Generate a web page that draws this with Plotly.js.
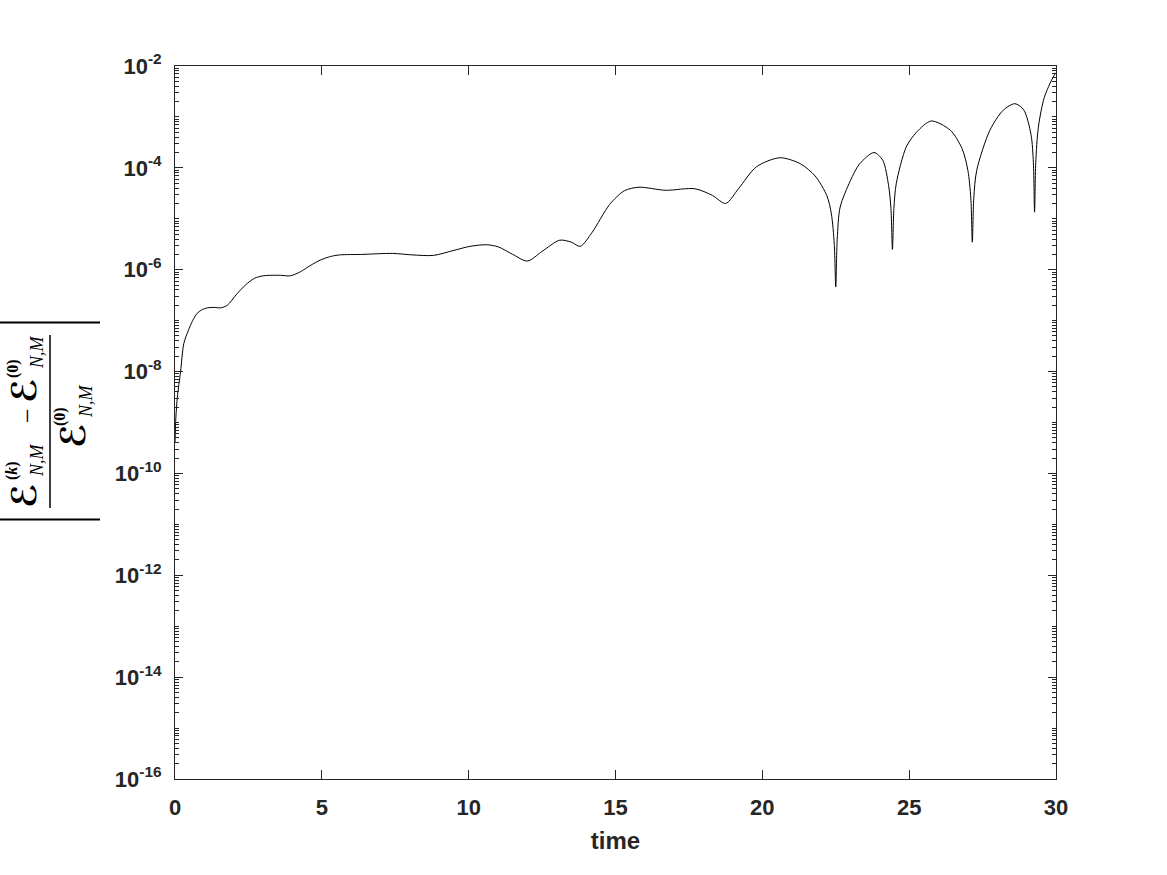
<!DOCTYPE html>
<html>
<head>
<meta charset="utf-8">
<script src="https://cdn.plot.ly/plotly-3.0.1.min.js"></script>
<style>html,body{margin:0;padding:0;background:#fff;}#chart{width:1167px;height:875px;}</style>
</head>
<body>
<div id="chart"></div>
<script>
// time values
const time = [0, 0.03, 0.08, 0.19, 0.3, 0.45, 0.6, 0.75, 0.9, 1.1, 1.35, 1.55, 1.78, 2.1, 2.4, 2.7, 3.0, 3.25, 3.6, 3.93,
  4.27, 4.6, 4.95, 5.3, 5.6, 6.4, 7.4, 8.1, 8.8, 9.5, 10.05, 10.6, 11.0, 11.5, 12.0, 12.5, 13.1, 13.5, 13.8, 14.2,
  14.8, 15.3, 15.8, 16.7, 17.7, 18.3, 18.75, 19.2, 19.8, 20.6, 21.3, 21.8, 22.2, 22.35, 22.45, 22.5, 22.55, 22.65, 23.0, 23.3,
  23.8, 24.1, 24.3, 24.38, 24.43, 24.48, 24.56, 24.9, 25.25, 25.75, 26.4, 26.8, 27.0, 27.1, 27.15, 27.2, 27.3, 27.75, 28.2, 28.6,
  28.9, 29.15, 29.23, 29.27, 29.31, 29.4, 29.6, 29.9, 30];
// relative energy error
const relError = [3.98e-10, 1.26e-9, 3.16e-9, 1.0e-8, 3.55e-8, 6.31e-8, 1.0e-7, 1.38e-7, 1.62e-7, 1.78e-7, 1.82e-7, 1.78e-7, 2.0e-7, 3.31e-7, 5.01e-7, 6.76e-7, 7.59e-7, 7.76e-7, 7.76e-7, 7.59e-7,
  9.12e-7, 1.20e-6, 1.55e-6, 1.82e-6, 1.95e-6, 2.0e-6, 2.09e-6, 1.95e-6, 1.91e-6, 2.40e-6, 2.88e-6, 3.09e-6, 2.82e-6, 2.0e-6, 1.48e-6, 2.29e-6, 3.80e-6, 3.47e-6, 2.88e-6, 5.37e-6,
  1.91e-5, 3.55e-5, 4.17e-5, 3.63e-5, 3.89e-5, 2.88e-5, 2.0e-5, 3.98e-5, 1.05e-4, 1.58e-4, 1.20e-4, 6.92e-5, 2.82e-5, 1.26e-5, 3.16e-6, 4.57e-7, 3.98e-6, 1.70e-5, 5.62e-5, 1.17e-4,
  2.0e-4, 1.41e-4, 4.47e-5, 1.58e-5, 2.51e-6, 1.58e-5, 4.90e-5, 2.57e-4, 5.01e-4, 8.32e-4, 5.50e-4, 2.40e-4, 8.91e-5, 2.51e-5, 3.47e-6, 2.51e-5, 8.91e-5, 5.50e-4, 1.35e-3, 1.82e-3,
  1.38e-3, 4.47e-4, 1.26e-4, 1.35e-5, 1.26e-4, 6.31e-4, 2.40e-3, 6.03e-3, 7.41e-3];

const xTickVals = [0, 5, 10, 15, 20, 25, 30];
const xTickText = ['0', '5', '10', '15', '20', '25', '30'];
const yTickVals = [1e-16, 1e-14, 1e-12, 1e-10, 1e-8, 1e-6, 1e-4, 1e-2];
const yTickText = ['10<sup>-16</sup>', '10<sup>-14</sup>', '10<sup>-12</sup>', '10<sup>-10</sup>', '10<sup>-8</sup>', '10<sup>-6</sup>', '10<sup>-4</sup>', '10<sup>-2</sup>'];

// minor ticks on log axis
const minorVals = [];
for (let e = -16; e < -2; e++) {
  for (let m = 1; m <= 9; m++) {
    if (m === 1 && (e % 2 === 0)) continue;
    minorVals.push(m * Math.pow(10, e));
  }
}

const W = 1167, H = 875, L = 175, R = 111, T = 66, B = 96;
const pw = W - L - R, ph = H - T - B;
const px = v => (v - L) / pw;
const py = v => (H - B - v) / ph;

const axisColor = '#262626';
const tickFont = {family: 'Liberation Sans, Arial, sans-serif', size: 22, weight: 'bold', color: axisColor};

const calE = {family: 'DejaVu Sans, sans-serif', size: 34, weight: 'bold', color: '#000'};
const supF = {family: 'Liberation Serif, serif', size: 16, weight: 'bold', color: '#000'};
const subF = {family: 'Liberation Serif, serif', size: 18, style: 'italic', color: '#000'};

function ann(text, x, y, font) {
  return {text: text, x: px(x), y: py(y), xref: 'paper', yref: 'paper', showarrow: false,
    textangle: -90, xanchor: 'center', yanchor: 'middle', font: font};
}

const annotations = [
  ann('ℰ', 24, 496, calE),
  ann('(<i>k</i>)', 12, 471, supF),
  ann('<i>N,M</i>', 37, 460, subF),
  ann('−', 27, 416, {family: 'Liberation Serif, serif', size: 26, color: '#000'}),
  ann('ℰ', 24, 391, calE),
  ann('(0)', 13, 369, supF),
  ann('<i>N,M</i>', 37, 352, subF),
  ann('ℰ', 73, 436, calE),
  ann('(0)', 60, 417, supF),
  ann('<i>N,M</i>', 86, 401, subF)
];

const shapes = [
  {type: 'line', xref: 'paper', yref: 'paper', x0: px(0), x1: px(100), y0: py(322.5), y1: py(322.5), line: {color: '#000', width: 2}},
  {type: 'line', xref: 'paper', yref: 'paper', x0: px(0), x1: px(100), y0: py(519.5), y1: py(519.5), line: {color: '#000', width: 2}},
  {type: 'line', xref: 'paper', yref: 'paper', x0: px(50), x1: px(50), y0: py(335), y1: py(508), line: {color: '#000', width: 1.5}}
];

const data = [{
  x: time, y: relError, type: 'scatter', mode: 'lines',
  line: {color: '#000', width: 1, shape: 'spline', smoothing: 0.8}
}];

const layout = {
  width: W, height: H,
  margin: {l: L, r: R, t: T, b: B, pad: 0},
  paper_bgcolor: '#fff', plot_bgcolor: '#fff',
  showlegend: false,
  xaxis: {
    range: [0, 30], tickmode: 'array', tickvals: xTickVals, ticktext: xTickText,
    ticks: 'inside', ticklen: 9, tickwidth: 1, tickcolor: axisColor,
    showline: true, linecolor: axisColor, linewidth: 1, mirror: 'ticks',
    showgrid: false, zeroline: false, tickfont: tickFont, ticklabelstandoff: 9,
    title: {text: 'time', font: {family: 'Liberation Sans, Arial, sans-serif', size: 24, weight: 'bold', color: axisColor}, standoff: 12}
  },
  yaxis: {
    type: 'log', range: [-16, -2], tickmode: 'array', tickvals: yTickVals, ticktext: yTickText,
    ticks: 'inside', ticklen: 8, tickwidth: 1, tickcolor: axisColor,
    minor: {tickmode: 'array', tickvals: minorVals, ticks: 'inside', ticklen: 4, tickwidth: 1, tickcolor: axisColor, showgrid: false},
    showline: true, linecolor: axisColor, linewidth: 1, mirror: 'ticks',
    showgrid: false, zeroline: false, tickfont: tickFont, ticklabelstandoff: 8
  },
  annotations: annotations,
  shapes: shapes
};

Plotly.newPlot('chart', data, layout, {displayModeBar: false, staticPlot: true});
</script>
</body>
</html>
